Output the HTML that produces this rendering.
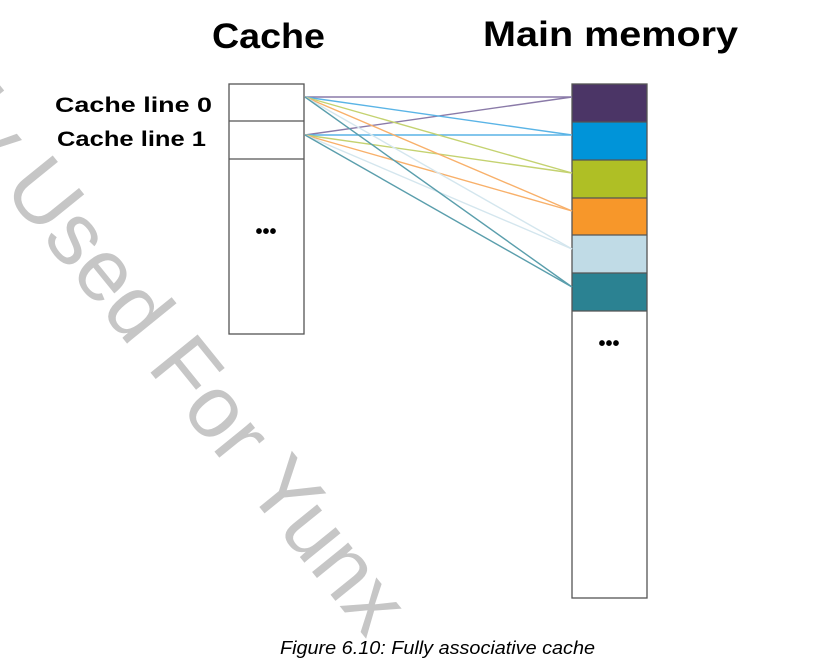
<!DOCTYPE html>
<html><head><style>
html,body{margin:0;padding:0;background:#fff;}
body{width:822px;height:667px;overflow:hidden;position:relative;font-family:"Liberation Sans",sans-serif;}
</style></head><body>
<svg width="822" height="667" xmlns="http://www.w3.org/2000/svg" style="position:absolute;left:0;top:0">
<text x="-54" y="120" transform="rotate(51 -54 120)" font-family="Liberation Sans" font-size="88" fill="#c6c6c6">ly Used For Yunx</text>

<text x="212" y="48" textLength="113" lengthAdjust="spacingAndGlyphs" font-family="Liberation Sans" font-weight="bold" font-size="35" fill="#000">Cache</text>
<text x="483" y="46" textLength="255" lengthAdjust="spacingAndGlyphs" font-family="Liberation Sans" font-weight="bold" font-size="35" fill="#000">Main memory</text>
<text x="55" y="112" textLength="157" lengthAdjust="spacingAndGlyphs" font-family="Liberation Sans" font-weight="bold" font-size="21" fill="#000">Cache line 0</text>
<text x="57" y="146" textLength="149" lengthAdjust="spacingAndGlyphs" font-family="Liberation Sans" font-weight="bold" font-size="21" fill="#000">Cache line 1</text>

<rect x="572" y="84" width="75" height="38" fill="#4b3566"/>
<rect x="572" y="122" width="75" height="38" fill="#0094d9"/>
<rect x="572" y="160" width="75" height="38" fill="#afbf25"/>
<rect x="572" y="198" width="75" height="37" fill="#f7972a"/>
<rect x="572" y="235" width="75" height="38" fill="#c0dbe6"/>
<rect x="572" y="273" width="75" height="38" fill="#2b8292"/>
<g stroke="#555" stroke-width="1.3" fill="none">
<rect x="572" y="84" width="75" height="514"/>
<line x1="572" y1="122" x2="647" y2="122"/><line x1="572" y1="160" x2="647" y2="160"/>
<line x1="572" y1="198" x2="647" y2="198"/><line x1="572" y1="235" x2="647" y2="235"/>
<line x1="572" y1="273" x2="647" y2="273"/><line x1="572" y1="311" x2="647" y2="311"/>
<rect x="229" y="84" width="75" height="250"/>
<line x1="229" y1="121" x2="304" y2="121"/><line x1="229" y1="159" x2="304" y2="159"/>
</g>
<g stroke-width="1.4" fill="none">
<line x1="305" y1="97" x2="572" y2="97" stroke="#8a7aa8"/>
<line x1="305" y1="135" x2="572" y2="97" stroke="#8a7aa8"/>
<line x1="305" y1="97" x2="572" y2="135" stroke="#5ab4e6"/>
<line x1="305" y1="135" x2="572" y2="135" stroke="#5ab4e6"/>
<line x1="305" y1="97" x2="572" y2="173" stroke="#c4d270"/>
<line x1="305" y1="135" x2="572" y2="173" stroke="#c4d270"/>
<line x1="305" y1="97" x2="572" y2="211" stroke="#f8b06a"/>
<line x1="305" y1="135" x2="572" y2="211" stroke="#f8b06a"/>
<line x1="305" y1="97" x2="572" y2="249" stroke="#d4e6ee"/>
<line x1="305" y1="135" x2="572" y2="249" stroke="#d4e6ee"/>
<line x1="305" y1="97" x2="572" y2="287" stroke="#5a9eac"/>
<line x1="305" y1="135" x2="572" y2="287" stroke="#5a9eac"/>
</g>
<text x="266" y="238" font-family="Liberation Sans" font-weight="bold" font-size="20" text-anchor="middle" fill="#000">•••</text>
<text x="609" y="350" font-family="Liberation Sans" font-weight="bold" font-size="20" text-anchor="middle" fill="#000">•••</text>
<text x="280" y="654" textLength="315" lengthAdjust="spacingAndGlyphs" font-family="Liberation Sans" font-style="italic" font-size="18" fill="#000">Figure 6.10: Fully associative cache</text>
</svg>
</body></html>
